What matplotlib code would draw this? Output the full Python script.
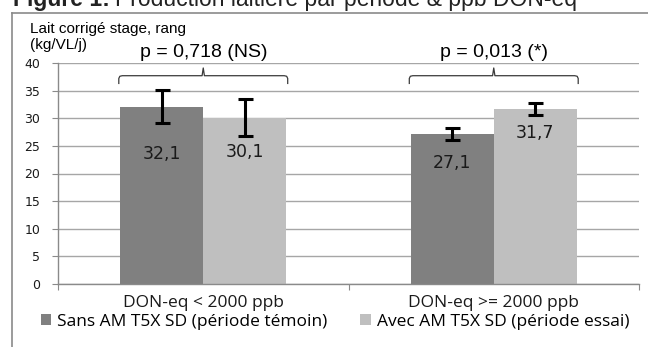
import numpy as np
import matplotlib.pyplot as plt
from matplotlib.patches import Patch
from matplotlib.lines import Line2D

# Données
categories = ["DON-eq < 2000 ppb", "DON-eq >= 2000 ppb"]
series = ["Sans AM T5X SD (période témoin)", "Avec AM T5X SD (période essai)"]
temoin = [32.1, 27.1]
essai = [30.1, 31.7]
err_temoin = [3.0, 1.1]
err_essai = [3.3, 1.1]
p_values = ["p = 0,718 (NS)", "p = 0,013 (*)"]
yticks = [0, 5, 10, 15, 20, 25, 30, 35, 40]

# Mise en page
couleurs = ["#808080", "#bfbfbf"]
largeur = 1 / 3.5
descente_etiquette = [[8.6, 5.2], [6.2, 4.3]]  # position des étiquettes sous le haut des barres

fig = plt.figure(figsize=(6.48, 3.47), dpi=100)
ax = fig.add_axes([58 / 648, 1 - 284 / 347, 581 / 648, 221 / 347])

x = np.arange(len(categories))
valeurs = [temoin, essai]
erreurs = [err_temoin, err_essai]
for i, (v, e) in enumerate(zip(valeurs, erreurs)):
    pos = x + (i - 0.5) * largeur
    ax.bar(pos, v, width=largeur, color=couleurs[i], zorder=2)
    ax.errorbar(pos, v, yerr=e, fmt="none", ecolor="black", elinewidth=2.2,
                capsize=5.4, capthick=2.2, zorder=3)
    for j in range(len(categories)):
        ax.text(pos[j], v[j] - descente_etiquette[i][j], f"{v[j]:.1f}".replace(".", ","),
                ha="center", va="center", fontsize=12.5, color="#1a1a1a", zorder=4)

# Accolades et p-values
for j in range(len(categories)):
    x0, x1 = x[j] - largeur - 0.005, x[j] + largeur + 0.005
    r = 0.012
    bx = [x0, x0, x0 + r * 0.3, x0 + r, x[j] - 0.004, x[j], x[j] + 0.004,
          x1 - r, x1 - r * 0.3, x1, x1]
    by = [36.3, 37.2, 37.6, 37.7, 37.7, 39.1, 37.7, 37.7, 37.6, 37.2, 36.3]
    ax.plot(bx, by, color="#3a3a3a", lw=0.9, zorder=4, clip_on=False)
    ax.text(x[j], 41.9, p_values[j], ha="center", va="center", fontsize=14,
            family="Liberation Sans", clip_on=False)

ax.set_xlim(-0.5, 1.5)
ax.set_ylim(0, 40)
ax.set_yticks(yticks)
ax.grid(axis="y", color="#a6a6a6", lw=1.0, zorder=0)
ax.set_axisbelow(True)
for s in ["top", "right"]:
    ax.spines[s].set_visible(False)
for s in ["left", "bottom"]:
    ax.spines[s].set_color("#8a8a8a")
    ax.spines[s].set_linewidth(1.0)
ax.tick_params(axis="y", length=4.3, color="#8a8a8a", pad=8.5, labelsize=9, labelcolor="#1a1a1a")
ax.set_xticks([-0.5, 0.5, 1.5])
ax.set_xticklabels([])
ax.tick_params(axis="x", which="major", length=4, color="#8a8a8a")
ax.set_xticks(x, minor=True)
ax.set_xticklabels(categories, minor=True, family="Open Sans", fontsize=12.5, color="#1a1a1a")
ax.tick_params(axis="x", which="minor", length=0, pad=8)

# Titre de l'axe y
fig.text(30 / 648, 1 - 29 / 347, "Lait corrigé stage, rang", family="Liberation Sans",
         fontsize=11, va="center", ha="left")
fig.text(30 / 648, 1 - 45 / 347, "(kg/VL/j)", family="Liberation Sans",
         fontsize=11, va="center", ha="left")

# Légende
poignees = [Patch(facecolor=c) for c in couleurs]
fig.legend(poignees, series, ncol=2, loc="center", bbox_to_anchor=(0.517, 1 - 322 / 347),
           frameon=False, prop={"family": "Open Sans", "size": 12.5}, handlelength=0.6,
           handleheight=0.6, handletextpad=0.35, columnspacing=1.9, borderpad=0)

# Cadre
fig.add_artist(Line2D([12 / 648, 1], [1 - 13 / 347] * 2, color="#8a8a8a", lw=1.2))
fig.add_artist(Line2D([12 / 648] * 2, [0, 1 - 13 / 347], color="#8a8a8a", lw=1.2))

# Titre de la figure
t1 = fig.text(13 / 648, 1 - 6 / 347, "Figure 1:", family="Liberation Sans",
              weight="bold", fontsize=16.5, va="baseline", ha="left", color="#222222")
fig.canvas.draw()
bb = t1.get_window_extent()
fig.text(bb.x1 / 648 + 0.008, 1 - 6 / 347, "Production laitière par période & ppb DON-eq",
         family="Liberation Sans", fontsize=16.5, va="baseline", ha="left", color="#222222")

fig.savefig("out.png", dpi=100)
